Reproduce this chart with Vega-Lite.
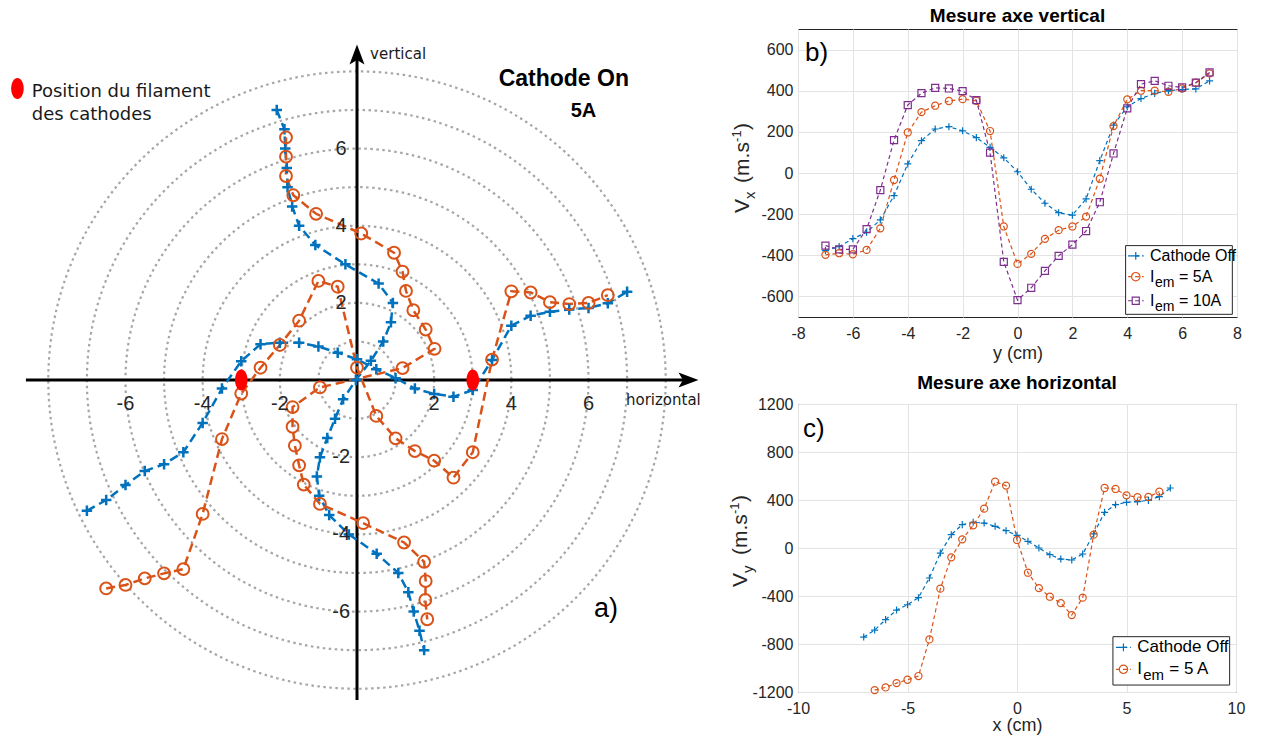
{
  "$schema": "https://vega.github.io/schema/vega-lite/v6.json",
  "background": "white",
  "padding": {"left": 2, "top": 6, "right": 0, "bottom": 0},
  "config": {"view": {"stroke": null}, "font": "Liberation Sans"},
  "resolve": {"scale": {"color": "independent", "shape": "independent", "size": "independent"}},
  "datasets": {
    "streams": [
      {"id":"bv","s":"off","i":0,"x":-2.08,"y":7},{"id":"bv","s":"off","i":1,"x":-1.88,"y":6.5},{"id":"bv","s":"off","i":2,"x":-1.86,"y":6},{"id":"bv","s":"off","i":3,"x":-1.82,"y":5.5},{"id":"bv","s":"off","i":4,"x":-1.8,"y":5},{"id":"bv","s":"off","i":5,"x":-1.68,"y":4.5},{"id":"bv","s":"off","i":6,"x":-1.5,"y":4},{"id":"bv","s":"off","i":7,"x":-1.08,"y":3.5},{"id":"bv","s":"off","i":8,"x":-0.3,"y":3},{"id":"bv","s":"off","i":9,"x":0.56,"y":2.5},{"id":"bv","s":"off","i":10,"x":0.93,"y":2},{"id":"bv","s":"off","i":11,"x":0.88,"y":1.5},{"id":"bv","s":"off","i":12,"x":0.68,"y":1},{"id":"bv","s":"off","i":13,"x":0.36,"y":0.5},{"id":"bv","s":"off","i":14,"x":-0.03,"y":0},{"id":"bv","s":"off","i":15,"x":-0.36,"y":-0.5},{"id":"bv","s":"off","i":16,"x":-0.57,"y":-1},{"id":"bv","s":"off","i":17,"x":-0.77,"y":-1.5},{"id":"bv","s":"off","i":18,"x":-0.96,"y":-2},{"id":"bv","s":"off","i":19,"x":-1.04,"y":-2.5},{"id":"bv","s":"off","i":20,"x":-0.98,"y":-3},{"id":"bv","s":"off","i":21,"x":-0.72,"y":-3.5},{"id":"bv","s":"off","i":22,"x":-0.21,"y":-4},{"id":"bv","s":"off","i":23,"x":0.51,"y":-4.5},{"id":"bv","s":"off","i":24,"x":1.07,"y":-5},{"id":"bv","s":"off","i":25,"x":1.33,"y":-5.5},{"id":"bv","s":"off","i":26,"x":1.47,"y":-6},{"id":"bv","s":"off","i":27,"x":1.62,"y":-6.5},{"id":"bv","s":"off","i":28,"x":1.74,"y":-7},
      {"id":"bh","s":"off","i":0,"x":-7,"y":-3.39},{"id":"bh","s":"off","i":1,"x":-6.5,"y":-3.11},{"id":"bh","s":"off","i":2,"x":-6,"y":-2.72},{"id":"bh","s":"off","i":3,"x":-5.5,"y":-2.36},{"id":"bh","s":"off","i":4,"x":-5,"y":-2.18},{"id":"bh","s":"off","i":5,"x":-4.5,"y":-1.87},{"id":"bh","s":"off","i":6,"x":-4,"y":-1.11},{"id":"bh","s":"off","i":7,"x":-3.5,"y":-0.22},{"id":"bh","s":"off","i":8,"x":-3,"y":0.49},{"id":"bh","s":"off","i":9,"x":-2.5,"y":0.93},{"id":"bh","s":"off","i":10,"x":-2,"y":0.97},{"id":"bh","s":"off","i":11,"x":-1.5,"y":0.97},{"id":"bh","s":"off","i":12,"x":-1,"y":0.87},{"id":"bh","s":"off","i":13,"x":-0.5,"y":0.71},{"id":"bh","s":"off","i":14,"x":0,"y":0.54},{"id":"bh","s":"off","i":15,"x":0.5,"y":0.28},{"id":"bh","s":"off","i":16,"x":1,"y":0.05},{"id":"bh","s":"off","i":17,"x":1.5,"y":-0.22},{"id":"bh","s":"off","i":18,"x":2,"y":-0.36},{"id":"bh","s":"off","i":19,"x":2.5,"y":-0.43},{"id":"bh","s":"off","i":20,"x":3,"y":-0.26},{"id":"bh","s":"off","i":21,"x":3.5,"y":0.52},{"id":"bh","s":"off","i":22,"x":4,"y":1.41},{"id":"bh","s":"off","i":23,"x":4.5,"y":1.67},{"id":"bh","s":"off","i":24,"x":5,"y":1.77},{"id":"bh","s":"off","i":25,"x":5.5,"y":1.83},{"id":"bh","s":"off","i":26,"x":6,"y":1.87},{"id":"bh","s":"off","i":27,"x":6.5,"y":1.99},{"id":"bh","s":"off","i":28,"x":7,"y":2.29},
      {"id":"ov","s":"on","i":0,"x":-1.84,"y":6.29},{"id":"ov","s":"on","i":1,"x":-1.84,"y":5.79},{"id":"ov","s":"on","i":2,"x":-1.84,"y":5.29},{"id":"ov","s":"on","i":3,"x":-1.65,"y":4.79},{"id":"ov","s":"on","i":4,"x":-1.06,"y":4.31},{"id":"ov","s":"on","i":5,"x":0.11,"y":3.8},{"id":"ov","s":"on","i":6,"x":0.96,"y":3.3},{"id":"ov","s":"on","i":7,"x":1.18,"y":2.81},{"id":"ov","s":"on","i":8,"x":1.27,"y":2.31},{"id":"ov","s":"on","i":9,"x":1.46,"y":1.81},{"id":"ov","s":"on","i":10,"x":1.78,"y":1.31},{"id":"ov","s":"on","i":11,"x":2.01,"y":0.81},{"id":"ov","s":"on","i":12,"x":1.18,"y":0.31},{"id":"ov","s":"on","i":13,"x":-0.96,"y":-0.19},{"id":"ov","s":"on","i":14,"x":-1.67,"y":-0.7},{"id":"ov","s":"on","i":15,"x":-1.67,"y":-1.21},{"id":"ov","s":"on","i":16,"x":-1.61,"y":-1.7},{"id":"ov","s":"on","i":17,"x":-1.5,"y":-2.21},{"id":"ov","s":"on","i":18,"x":-1.38,"y":-2.71},{"id":"ov","s":"on","i":19,"x":-0.96,"y":-3.21},{"id":"ov","s":"on","i":20,"x":0.16,"y":-3.71},{"id":"ov","s":"on","i":21,"x":1.22,"y":-4.21},{"id":"ov","s":"on","i":22,"x":1.74,"y":-4.71},{"id":"ov","s":"on","i":23,"x":1.78,"y":-5.21},{"id":"ov","s":"on","i":24,"x":1.77,"y":-5.7},{"id":"ov","s":"on","i":25,"x":1.82,"y":-6.2},
      {"id":"oh","s":"on","i":0,"x":-6.5,"y":-5.4},{"id":"oh","s":"on","i":1,"x":-6,"y":-5.31},{"id":"oh","s":"on","i":2,"x":-5.5,"y":-5.14},{"id":"oh","s":"on","i":3,"x":-5,"y":-5.01},{"id":"oh","s":"on","i":4,"x":-4.5,"y":-4.9},{"id":"oh","s":"on","i":5,"x":-4,"y":-3.47},{"id":"oh","s":"on","i":6,"x":-3.5,"y":-1.53},{"id":"oh","s":"on","i":7,"x":-3,"y":-0.35},{"id":"oh","s":"on","i":8,"x":-2.5,"y":0.32},{"id":"oh","s":"on","i":9,"x":-2,"y":0.91},{"id":"oh","s":"on","i":10,"x":-1.5,"y":1.54},{"id":"oh","s":"on","i":11,"x":-1,"y":2.57},{"id":"oh","s":"on","i":12,"x":-0.5,"y":2.42},{"id":"oh","s":"on","i":13,"x":0,"y":0.32},{"id":"oh","s":"on","i":14,"x":0.5,"y":-0.93},{"id":"oh","s":"on","i":15,"x":1,"y":-1.51},{"id":"oh","s":"on","i":16,"x":1.5,"y":-1.84},{"id":"oh","s":"on","i":17,"x":2,"y":-2.09},{"id":"oh","s":"on","i":18,"x":2.5,"y":-2.53},{"id":"oh","s":"on","i":19,"x":3,"y":-1.87},{"id":"oh","s":"on","i":20,"x":3.5,"y":0.53},{"id":"oh","s":"on","i":21,"x":4,"y":2.3},{"id":"oh","s":"on","i":22,"x":4.5,"y":2.27},{"id":"oh","s":"on","i":23,"x":5,"y":2.02},{"id":"oh","s":"on","i":24,"x":5.5,"y":1.97},{"id":"oh","s":"on","i":25,"x":6,"y":2.0},{"id":"oh","s":"on","i":26,"x":6.5,"y":2.2}
    ],
    "vert": [
      {"y":-7,"s":"off","v":-377},{"y":-6.5,"s":"off","v":-358},{"y":-6,"s":"off","v":-319},{"y":-5.5,"s":"off","v":-288},{"y":-5,"s":"off","v":-228},{"y":-4.5,"s":"off","v":-110},{"y":-4,"s":"off","v":44},{"y":-3.5,"s":"off","v":157},{"y":-3,"s":"off","v":214},{"y":-2.5,"s":"off","v":225},{"y":-2,"s":"off","v":205},{"y":-1.5,"s":"off","v":172},{"y":-1,"s":"off","v":125},{"y":-0.5,"s":"off","v":74},{"y":0,"s":"off","v":6},{"y":0.5,"s":"off","v":-79},{"y":1,"s":"off","v":-147},{"y":1.5,"s":"off","v":-193},{"y":2,"s":"off","v":-205},{"y":2.5,"s":"off","v":-126},{"y":3,"s":"off","v":60},{"y":3.5,"s":"off","v":233},{"y":4,"s":"off","v":322},{"y":4.5,"s":"off","v":362},{"y":5,"s":"off","v":387},{"y":5.5,"s":"off","v":400},{"y":6,"s":"off","v":406},{"y":6.5,"s":"off","v":409},{"y":7,"s":"off","v":448},
      {"y":-7,"s":"5A","v":-398},{"y":-6.5,"s":"5A","v":-390},{"y":-6,"s":"5A","v":-395},{"y":-5.5,"s":"5A","v":-374},{"y":-5,"s":"5A","v":-269},{"y":-4.5,"s":"5A","v":-34},{"y":-4,"s":"5A","v":197},{"y":-3.5,"s":"5A","v":296},{"y":-3,"s":"5A","v":327},{"y":-2.5,"s":"5A","v":350},{"y":-2,"s":"5A","v":359},{"y":-1.5,"s":"5A","v":351},{"y":-1,"s":"5A","v":204},{"y":-0.5,"s":"5A","v":-260},{"y":0,"s":"5A","v":-442},{"y":0.5,"s":"5A","v":-393},{"y":1,"s":"5A","v":-320},{"y":1.5,"s":"5A","v":-278},{"y":2,"s":"5A","v":-260},{"y":2.5,"s":"5A","v":-212},{"y":3,"s":"5A","v":-28},{"y":3.5,"s":"5A","v":228},{"y":4,"s":"5A","v":358},{"y":4.5,"s":"5A","v":400},{"y":5,"s":"5A","v":400},{"y":5.5,"s":"5A","v":395},{"y":6,"s":"5A","v":411},{"y":6.5,"s":"5A","v":439},{"y":7,"s":"5A","v":484},
      {"y":-7,"s":"10A","v":-353},{"y":-6.5,"s":"10A","v":-371},{"y":-6,"s":"10A","v":-371},{"y":-5.5,"s":"10A","v":-273},{"y":-5,"s":"10A","v":-83},{"y":-4.5,"s":"10A","v":160},{"y":-4,"s":"10A","v":330},{"y":-3.5,"s":"10A","v":388},{"y":-3,"s":"10A","v":414},{"y":-2.5,"s":"10A","v":411},{"y":-2,"s":"10A","v":398},{"y":-1.5,"s":"10A","v":354},{"y":-1,"s":"10A","v":99},{"y":-0.5,"s":"10A","v":-432},{"y":0,"s":"10A","v":-618},{"y":0.5,"s":"10A","v":-558},{"y":1,"s":"10A","v":-476},{"y":1.5,"s":"10A","v":-403},{"y":2,"s":"10A","v":-348},{"y":2.5,"s":"10A","v":-282},{"y":3,"s":"10A","v":-142},{"y":3.5,"s":"10A","v":95},{"y":4,"s":"10A","v":314},{"y":4.5,"s":"10A","v":432},{"y":5,"s":"10A","v":448},{"y":5.5,"s":"10A","v":424},{"y":6,"s":"10A","v":416},{"y":6.5,"s":"10A","v":439},{"y":7,"s":"10A","v":489}
    ],
    "hori": [
      {"x":-7,"s":"off","v":-742},{"x":-6.5,"s":"off","v":-684},{"x":-6,"s":"off","v":-597},{"x":-5.5,"s":"off","v":-517},{"x":-5,"s":"off","v":-473},{"x":-4.5,"s":"off","v":-414},{"x":-4,"s":"off","v":-250},{"x":-3.5,"s":"off","v":-42},{"x":-3,"s":"off","v":111},{"x":-2.5,"s":"off","v":195},{"x":-2,"s":"off","v":214},{"x":-1.5,"s":"off","v":208},{"x":-1,"s":"off","v":181},{"x":-0.5,"s":"off","v":144},{"x":0,"s":"off","v":106},{"x":0.5,"s":"off","v":56},{"x":1,"s":"off","v":0},{"x":1.5,"s":"off","v":-56},{"x":2,"s":"off","v":-92},{"x":2.5,"s":"off","v":-100},{"x":3,"s":"off","v":-50},{"x":3.5,"s":"off","v":117},{"x":4,"s":"off","v":297},{"x":4.5,"s":"off","v":361},{"x":5,"s":"off","v":381},{"x":5.5,"s":"off","v":386},{"x":6,"s":"off","v":397},{"x":6.5,"s":"off","v":428},{"x":7,"s":"off","v":500},
      {"x":-6.5,"s":"5A","v":-1184},{"x":-6,"s":"5A","v":-1162},{"x":-5.5,"s":"5A","v":-1126},{"x":-5,"s":"5A","v":-1098},{"x":-4.5,"s":"5A","v":-1067},{"x":-4,"s":"5A","v":-762},{"x":-3.5,"s":"5A","v":-339},{"x":-3,"s":"5A","v":-78},{"x":-2.5,"s":"5A","v":72},{"x":-2,"s":"5A","v":189},{"x":-1.5,"s":"5A","v":328},{"x":-1,"s":"5A","v":553},{"x":-0.5,"s":"5A","v":520},{"x":0,"s":"5A","v":67},{"x":0.5,"s":"5A","v":-206},{"x":1,"s":"5A","v":-334},{"x":1.5,"s":"5A","v":-406},{"x":2,"s":"5A","v":-459},{"x":2.5,"s":"5A","v":-559},{"x":3,"s":"5A","v":-414},{"x":3.5,"s":"5A","v":111},{"x":4,"s":"5A","v":500},{"x":4.5,"s":"5A","v":492},{"x":5,"s":"5A","v":439},{"x":5.5,"s":"5A","v":423},{"x":6,"s":"5A","v":425},{"x":6.5,"s":"5A","v":470}
    ]
  },
  "spacing": 16,
  "hconcat": [
    {
      "width": 710,
      "height": 706,
      "layer": [
        {
          "data": {"values": [{"r":1},{"r":2},{"r":3},{"r":4},{"r":5},{"r":6},{"r":7},{"r":8}]},
          "mark": {"type": "point", "shape": "circle", "filled": false, "stroke": "#a6a6a6", "strokeWidth": 2.2, "strokeDash": [2.5, 3.5], "opacity": 1},
          "encoding": {
            "x": {"datum": 0, "type": "quantitative", "scale": {"domain": [-9.2, 9.2], "nice": false, "zero": false}, "axis": null},
            "y": {"datum": 0, "type": "quantitative", "scale": {"domain": [-9.2, 9.1], "nice": false, "zero": false}, "axis": null},
            "size": {"field": "r", "type": "quantitative", "scale": {"type": "pow", "exponent": 2, "domain": [0, 8], "range": [0, 381182]}, "legend": null}
          }
        },
        {
          "data": {"values": [{}]},
          "mark": {"type": "rule", "stroke": "black", "strokeWidth": 3},
          "encoding": {
            "x": {"datum": -8.58, "type": "quantitative", "scale": {"domain": [-9.2, 9.2], "nice": false, "zero": false}, "axis": null},
            "x2": {"datum": 8.5},
            "y": {"datum": 0, "type": "quantitative", "scale": {"domain": [-9.2, 9.1], "nice": false, "zero": false}, "axis": null}
          }
        },
        {
          "data": {"values": [{}]},
          "mark": {"type": "rule", "stroke": "black", "strokeWidth": 3},
          "encoding": {
            "x": {"datum": 0, "type": "quantitative", "scale": {"domain": [-9.2, 9.2], "nice": false, "zero": false}, "axis": null},
            "y": {"datum": -8.29, "type": "quantitative", "scale": {"domain": [-9.2, 9.1], "nice": false, "zero": false}, "axis": null},
            "y2": {"datum": 8.4}
          }
        },
        {
          "data": {"values": [{}]},
          "mark": {"type": "point", "shape": "M1,0L-1,-0.75L-0.55,0L-1,0.75Z", "filled": true, "color": "black", "size": 400, "opacity": 1},
          "encoding": {
            "x": {"datum": 8.59, "type": "quantitative", "scale": {"domain": [-9.2, 9.2], "nice": false, "zero": false}, "axis": null},
            "y": {"datum": 0, "type": "quantitative", "scale": {"domain": [-9.2, 9.1], "nice": false, "zero": false}, "axis": null}
          }
        },
        {
          "data": {"values": [{}]},
          "mark": {"type": "point", "shape": "M0,-1L-0.75,1L0,0.55L0.75,1Z", "filled": true, "color": "black", "size": 400, "opacity": 1},
          "encoding": {
            "x": {"datum": 0, "type": "quantitative", "scale": {"domain": [-9.2, 9.2], "nice": false, "zero": false}, "axis": null},
            "y": {"datum": 8.44, "type": "quantitative", "scale": {"domain": [-9.2, 9.1], "nice": false, "zero": false}, "axis": null}
          }
        },
        {
          "data": {"name": "streams"},
          "mark": {"type": "line", "strokeDash": [9, 5], "strokeWidth": 2.5},
          "encoding": {
            "x": {"field": "x", "type": "quantitative", "scale": {"domain": [-9.2, 9.2], "nice": false, "zero": false}, "axis": null},
            "y": {"field": "y", "type": "quantitative", "scale": {"domain": [-9.2, 9.1], "nice": false, "zero": false}, "axis": null},
            "color": {"field": "s", "type": "nominal", "scale": {"domain": ["off", "on"], "range": ["#0072BD", "#D95319"]}, "legend": null},
            "detail": {"field": "id"},
            "order": {"field": "i", "type": "quantitative"}
          }
        },
        {
          "data": {"name": "streams"},
          "transform": [{"filter": "datum.s === 'off'"}],
          "mark": {"type": "point", "shape": "M-1,0L1,0M0,-1L0,1", "filled": false, "size": 110, "strokeWidth": 2.5, "opacity": 1, "color": "#0072BD"},
          "encoding": {
            "x": {"field": "x", "type": "quantitative", "scale": {"domain": [-9.2, 9.2], "nice": false, "zero": false}, "axis": null},
            "y": {"field": "y", "type": "quantitative", "scale": {"domain": [-9.2, 9.1], "nice": false, "zero": false}, "axis": null}
          }
        },
        {
          "data": {"name": "streams"},
          "transform": [{"filter": "datum.s === 'on'"}],
          "mark": {"type": "point", "shape": "circle", "filled": false, "size": 140, "strokeWidth": 2, "opacity": 1, "color": "#D95319"},
          "encoding": {
            "x": {"field": "x", "type": "quantitative", "scale": {"domain": [-9.2, 9.2], "nice": false, "zero": false}, "axis": null},
            "y": {"field": "y", "type": "quantitative", "scale": {"domain": [-9.2, 9.1], "nice": false, "zero": false}, "axis": null}
          }
        },
        {
          "data": {"values": [{"x": -3}, {"x": 3}]},
          "mark": {"type": "point", "shape": "M0,-1A0.6,1 0 1,1 0,1A0.6,1 0 1,1 0,-1Z", "filled": true, "color": "#ff0000", "size": 441, "opacity": 1},
          "encoding": {
            "x": {"field": "x", "type": "quantitative", "scale": {"domain": [-9.2, 9.2], "nice": false, "zero": false}, "axis": null},
            "y": {"datum": 0, "type": "quantitative", "scale": {"domain": [-9.2, 9.1], "nice": false, "zero": false}, "axis": null}
          }
        },
        {
          "data": {"values": [{}]},
          "mark": {"type": "point", "shape": "M0,-1A0.6,1 0 1,1 0,1A0.6,1 0 1,1 0,-1Z", "filled": true, "color": "#ff0000", "size": 441, "opacity": 1},
          "encoding": {
            "x": {"datum": -8.8, "type": "quantitative", "scale": {"domain": [-9.2, 9.2], "nice": false, "zero": false}, "axis": null},
            "y": {"datum": 7.56, "type": "quantitative", "scale": {"domain": [-9.2, 9.1], "nice": false, "zero": false}, "axis": null}
          }
        },
        {
          "data": {"values": [{"v": -6}, {"v": -4}, {"v": -2}, {"v": 2}, {"v": 4}, {"v": 6}]},
          "mark": {"type": "text", "fontSize": 20, "color": "#262626", "align": "center", "baseline": "alphabetic"},
          "encoding": {
            "x": {"field": "v", "type": "quantitative", "scale": {"domain": [-9.2, 9.2], "nice": false, "zero": false}, "axis": null},
            "y": {"datum": -0.78, "type": "quantitative", "scale": {"domain": [-9.2, 9.1], "nice": false, "zero": false}, "axis": null},
            "text": {"field": "v", "type": "nominal"}
          }
        },
        {
          "data": {"values": [{"v": -6}, {"v": -4}, {"v": -2}, {"v": 2}, {"v": 4}, {"v": 6}]},
          "mark": {"type": "text", "fontSize": 20, "color": "#262626", "align": "center", "baseline": "middle"},
          "encoding": {
            "x": {"datum": -0.41, "type": "quantitative", "scale": {"domain": [-9.2, 9.2], "nice": false, "zero": false}, "axis": null},
            "y": {"field": "v", "type": "quantitative", "scale": {"domain": [-9.2, 9.1], "nice": false, "zero": false}, "axis": null},
            "text": {"field": "v", "type": "nominal"}
          }
        },
        {
          "data": {"values": [{}]},
          "mark": {"type": "text", "text": ["Position du filament", "des cathodes"], "font": "DejaVu Sans", "fontSize": 18, "lineHeight": 23.3, "color": "#1a1a1a", "align": "left", "baseline": "alphabetic"},
          "encoding": {
            "x": {"datum": -8.43, "type": "quantitative", "scale": {"domain": [-9.2, 9.2], "nice": false, "zero": false}, "axis": null},
            "y": {"datum": 7.34, "type": "quantitative", "scale": {"domain": [-9.2, 9.1], "nice": false, "zero": false}, "axis": null}
          }
        },
        {
          "data": {"values": [{}]},
          "mark": {"type": "text", "text": "Cathode On", "fontSize": 23, "fontWeight": "bold", "color": "black", "align": "center", "baseline": "alphabetic"},
          "encoding": {
            "x": {"datum": 5.36, "type": "quantitative", "scale": {"domain": [-9.2, 9.2], "nice": false, "zero": false}, "axis": null},
            "y": {"datum": 7.62, "type": "quantitative", "scale": {"domain": [-9.2, 9.1], "nice": false, "zero": false}, "axis": null}
          }
        },
        {
          "data": {"values": [{}]},
          "mark": {"type": "text", "text": "5A", "fontSize": 20, "fontWeight": "bold", "color": "black", "align": "center", "baseline": "alphabetic"},
          "encoding": {
            "x": {"datum": 5.87, "type": "quantitative", "scale": {"domain": [-9.2, 9.2], "nice": false, "zero": false}, "axis": null},
            "y": {"datum": 6.82, "type": "quantitative", "scale": {"domain": [-9.2, 9.1], "nice": false, "zero": false}, "axis": null}
          }
        },
        {
          "data": {"values": [{}]},
          "mark": {"type": "text", "text": "a)", "fontSize": 27, "color": "black", "align": "center", "baseline": "alphabetic"},
          "encoding": {
            "x": {"datum": 6.45, "type": "quantitative", "scale": {"domain": [-9.2, 9.2], "nice": false, "zero": false}, "axis": null},
            "y": {"datum": -6.14, "type": "quantitative", "scale": {"domain": [-9.2, 9.1], "nice": false, "zero": false}, "axis": null}
          }
        },
        {
          "data": {"values": [{}]},
          "mark": {"type": "text", "text": "vertical", "font": "DejaVu Sans", "fontSize": 15, "color": "#1a1a1a", "align": "left", "baseline": "alphabetic"},
          "encoding": {
            "x": {"datum": 0.34, "type": "quantitative", "scale": {"domain": [-9.2, 9.2], "nice": false, "zero": false}, "axis": null},
            "y": {"datum": 8.33, "type": "quantitative", "scale": {"domain": [-9.2, 9.1], "nice": false, "zero": false}, "axis": null}
          }
        },
        {
          "data": {"values": [{}]},
          "mark": {"type": "text", "text": "horizontal", "font": "DejaVu Sans", "fontSize": 15, "color": "#1a1a1a", "align": "left", "baseline": "alphabetic"},
          "encoding": {
            "x": {"datum": 6.97, "type": "quantitative", "scale": {"domain": [-9.2, 9.2], "nice": false, "zero": false}, "axis": null},
            "y": {"datum": -0.65, "type": "quantitative", "scale": {"domain": [-9.2, 9.1], "nice": false, "zero": false}, "axis": null}
          }
        }
      ]
    },
    {
      "spacing": 10,
      "resolve": {"scale": {"color": "independent", "shape": "independent"}},
      "vconcat": [
        {
          "width": 439,
          "height": 288,
          "title": {"text": "Mesure axe vertical", "fontSize": 19, "fontWeight": "bold", "color": "black", "offset": 3, "font": "Liberation Sans"},
          "view": {"stroke": "#262626", "strokeWidth": 1},
          "data": {"name": "vert"},
          "layer": [
            {
              "mark": {"type": "line", "strokeDash": [4, 3], "strokeWidth": 1.2},
              "encoding": {
                "x": {"field": "y", "type": "quantitative", "scale": {"domain": [-8, 8], "nice": false, "zero": false}, "axis": {"values": [-8, -6, -4, -2, 0, 2, 4, 6, 8], "title": "y (cm)", "grid": true, "gridColor": "#e3e3e3", "ticks": false, "domain": false, "labelFontSize": 16, "labelColor": "#262626", "labelPadding": 8, "labelFlush": false, "labelExpr": "datum.value + ''", "titleFontSize": 18, "titleFontWeight": "normal", "titleColor": "#262626", "titlePadding": 3}},
                "y": {"field": "v", "type": "quantitative", "scale": {"domain": [-700, 700], "nice": false, "zero": false}, "axis": {"values": [-600, -400, -200, 0, 200, 400, 600], "title": null, "grid": true, "gridColor": "#e3e3e3", "ticks": false, "domain": false, "labelFontSize": 16, "labelColor": "#262626", "labelPadding": 5, "labelFlush": false, "labelExpr": "datum.value + ''"}},
                "color": {"field": "s", "type": "nominal", "scale": {"domain": ["off", "5A", "10A"], "range": ["#0072BD", "#D95319", "#7E2F8E"]}, "legend": null}
              }
            },
            {
              "mark": {"type": "point", "filled": false, "size": 50, "strokeWidth": 1.2, "opacity": 1},
              "encoding": {
                "x": {"field": "y", "type": "quantitative", "scale": {"domain": [-8, 8], "nice": false, "zero": false}},
                "y": {"field": "v", "type": "quantitative", "scale": {"domain": [-700, 700], "nice": false, "zero": false}},
                "color": {"field": "s", "type": "nominal", "scale": {"domain": ["off", "5A", "10A"], "range": ["#0072BD", "#D95319", "#7E2F8E"]}, "legend": null},
                "shape": {"field": "s", "type": "nominal", "scale": {"domain": ["off", "5A", "10A"], "range": ["M-1,0L1,0M0,-1L0,1", "circle", "square"]}, "legend": null}
              }
            },
            {
              "data": {"values": [{}]},
              "mark": {"type": "text", "text": "b)", "fontSize": 26, "color": "black", "align": "left", "baseline": "alphabetic"},
              "encoding": {
                "x": {"datum": -7.745, "type": "quantitative", "scale": {"domain": [-8, 8], "nice": false, "zero": false}},
                "y": {"datum": 544, "type": "quantitative", "scale": {"domain": [-700, 700], "nice": false, "zero": false}}
              }
            },
            {
              "data": {"values": [{}]},
              "mark": {"type": "rect", "fill": "white", "stroke": "#262626", "strokeWidth": 1},
              "encoding": {
                "x": {"datum": 3.94, "type": "quantitative", "scale": {"domain": [-8, 8], "nice": false, "zero": false}},
                "x2": {"datum": 7.83},
                "y": {"datum": -353, "type": "quantitative", "scale": {"domain": [-700, 700], "nice": false, "zero": false}},
                "y2": {"datum": -687}
              }
            },
            {
              "data": {"values": [{}]},
              "mark": {"type": "rule", "stroke": "#0072BD", "strokeWidth": 1.2, "strokeDash": [4, 3]},
              "encoding": {
                "x": {"datum": 4.03, "type": "quantitative", "scale": {"domain": [-8, 8], "nice": false, "zero": false}},
                "x2": {"datum": 4.6},
                "y": {"datum": -403, "type": "quantitative", "scale": {"domain": [-700, 700], "nice": false, "zero": false}}
              }
            },
            {
              "data": {"values": [{}]},
              "mark": {"type": "rule", "stroke": "#D95319", "strokeWidth": 1.2, "strokeDash": [4, 3]},
              "encoding": {
                "x": {"datum": 4.03, "type": "quantitative", "scale": {"domain": [-8, 8], "nice": false, "zero": false}},
                "x2": {"datum": 4.6},
                "y": {"datum": -504, "type": "quantitative", "scale": {"domain": [-700, 700], "nice": false, "zero": false}}
              }
            },
            {
              "data": {"values": [{}]},
              "mark": {"type": "rule", "stroke": "#7E2F8E", "strokeWidth": 1.2, "strokeDash": [4, 3]},
              "encoding": {
                "x": {"datum": 4.03, "type": "quantitative", "scale": {"domain": [-8, 8], "nice": false, "zero": false}},
                "x2": {"datum": 4.6},
                "y": {"datum": -621, "type": "quantitative", "scale": {"domain": [-700, 700], "nice": false, "zero": false}}
              }
            },
            {
              "data": {"values": [{}]},
              "mark": {"type": "point", "shape": "M-1,0L1,0M0,-1L0,1", "filled": false, "size": 60, "strokeWidth": 1.2, "opacity": 1, "color": "#0072BD"},
              "encoding": {
                "x": {"datum": 4.31, "type": "quantitative", "scale": {"domain": [-8, 8], "nice": false, "zero": false}},
                "y": {"datum": -403, "type": "quantitative", "scale": {"domain": [-700, 700], "nice": false, "zero": false}}
              }
            },
            {
              "data": {"values": [{}]},
              "mark": {"type": "point", "shape": "circle", "filled": false, "size": 70, "strokeWidth": 1.2, "opacity": 1, "color": "#D95319"},
              "encoding": {
                "x": {"datum": 4.31, "type": "quantitative", "scale": {"domain": [-8, 8], "nice": false, "zero": false}},
                "y": {"datum": -504, "type": "quantitative", "scale": {"domain": [-700, 700], "nice": false, "zero": false}}
              }
            },
            {
              "data": {"values": [{}]},
              "mark": {"type": "point", "shape": "square", "filled": false, "size": 50, "strokeWidth": 1.2, "opacity": 1, "color": "#7E2F8E"},
              "encoding": {
                "x": {"datum": 4.31, "type": "quantitative", "scale": {"domain": [-8, 8], "nice": false, "zero": false}},
                "y": {"datum": -621, "type": "quantitative", "scale": {"domain": [-700, 700], "nice": false, "zero": false}}
              }
            },
            {
              "data": {"values": [{}]},
              "mark": {"type": "text", "text": "Cathode Off", "fontSize": 16, "color": "black", "align": "left", "baseline": "middle"},
              "encoding": {
                "x": {"datum": 4.83, "type": "quantitative", "scale": {"domain": [-8, 8], "nice": false, "zero": false}},
                "y": {"datum": -403, "type": "quantitative", "scale": {"domain": [-700, 700], "nice": false, "zero": false}}
              }
            },
            {
              "data": {"values": [{}]},
              "mark": {"type": "text", "text": "I", "fontSize": 16, "color": "black", "align": "left", "baseline": "middle"},
              "encoding": {
                "x": {"datum": 4.83, "type": "quantitative", "scale": {"domain": [-8, 8], "nice": false, "zero": false}},
                "y": {"datum": -504, "type": "quantitative", "scale": {"domain": [-700, 700], "nice": false, "zero": false}}
              }
            },
            {
              "data": {"values": [{}]},
              "mark": {"type": "text", "text": "em", "fontSize": 14, "color": "black", "align": "left", "baseline": "middle", "dx": 5, "dy": 6},
              "encoding": {
                "x": {"datum": 4.83, "type": "quantitative", "scale": {"domain": [-8, 8], "nice": false, "zero": false}},
                "y": {"datum": -504, "type": "quantitative", "scale": {"domain": [-700, 700], "nice": false, "zero": false}}
              }
            },
            {
              "data": {"values": [{}]},
              "mark": {"type": "text", "text": "= 5A", "fontSize": 16, "color": "black", "align": "left", "baseline": "middle", "dx": 29},
              "encoding": {
                "x": {"datum": 4.83, "type": "quantitative", "scale": {"domain": [-8, 8], "nice": false, "zero": false}},
                "y": {"datum": -504, "type": "quantitative", "scale": {"domain": [-700, 700], "nice": false, "zero": false}}
              }
            },
            {
              "data": {"values": [{}]},
              "mark": {"type": "text", "text": "I", "fontSize": 16, "color": "black", "align": "left", "baseline": "middle"},
              "encoding": {
                "x": {"datum": 4.83, "type": "quantitative", "scale": {"domain": [-8, 8], "nice": false, "zero": false}},
                "y": {"datum": -621, "type": "quantitative", "scale": {"domain": [-700, 700], "nice": false, "zero": false}}
              }
            },
            {
              "data": {"values": [{}]},
              "mark": {"type": "text", "text": "em", "fontSize": 14, "color": "black", "align": "left", "baseline": "middle", "dx": 5, "dy": 6},
              "encoding": {
                "x": {"datum": 4.83, "type": "quantitative", "scale": {"domain": [-8, 8], "nice": false, "zero": false}},
                "y": {"datum": -621, "type": "quantitative", "scale": {"domain": [-700, 700], "nice": false, "zero": false}}
              }
            },
            {
              "data": {"values": [{}]},
              "mark": {"type": "text", "text": "= 10A", "fontSize": 16, "color": "black", "align": "left", "baseline": "middle", "dx": 29},
              "encoding": {
                "x": {"datum": 4.83, "type": "quantitative", "scale": {"domain": [-8, 8], "nice": false, "zero": false}},
                "y": {"datum": -621, "type": "quantitative", "scale": {"domain": [-700, 700], "nice": false, "zero": false}}
              }
            },
            {
              "data": {"values": [{}]},
              "mark": {"type": "text", "text": "V", "angle": 270, "fontSize": 21, "color": "#262626", "align": "left", "baseline": "alphabetic"},
              "encoding": {
                "x": {"datum": -9.786, "type": "quantitative", "scale": {"domain": [-8, 8], "nice": false, "zero": false}},
                "y": {"datum": -194, "type": "quantitative", "scale": {"domain": [-700, 700], "nice": false, "zero": false}}
              }
            },
            {
              "data": {"values": [{}]},
              "mark": {"type": "text", "text": "x", "angle": 270, "fontSize": 15, "color": "#262626", "align": "left", "baseline": "alphabetic", "dx": 14, "dy": 6},
              "encoding": {
                "x": {"datum": -9.786, "type": "quantitative", "scale": {"domain": [-8, 8], "nice": false, "zero": false}},
                "y": {"datum": -194, "type": "quantitative", "scale": {"domain": [-700, 700], "nice": false, "zero": false}}
              }
            },
            {
              "data": {"values": [{}]},
              "mark": {"type": "text", "text": "(m.s", "angle": 270, "fontSize": 21, "color": "#262626", "align": "left", "baseline": "alphabetic", "dx": 30},
              "encoding": {
                "x": {"datum": -9.786, "type": "quantitative", "scale": {"domain": [-8, 8], "nice": false, "zero": false}},
                "y": {"datum": -194, "type": "quantitative", "scale": {"domain": [-700, 700], "nice": false, "zero": false}}
              }
            },
            {
              "data": {"values": [{}]},
              "mark": {"type": "text", "text": "-1", "angle": 270, "fontSize": 13, "color": "#262626", "align": "left", "baseline": "alphabetic", "dx": 71, "dy": -8},
              "encoding": {
                "x": {"datum": -9.786, "type": "quantitative", "scale": {"domain": [-8, 8], "nice": false, "zero": false}},
                "y": {"datum": -194, "type": "quantitative", "scale": {"domain": [-700, 700], "nice": false, "zero": false}}
              }
            },
            {
              "data": {"values": [{}]},
              "mark": {"type": "text", "text": ")", "angle": 270, "fontSize": 21, "color": "#262626", "align": "left", "baseline": "alphabetic", "dx": 83},
              "encoding": {
                "x": {"datum": -9.786, "type": "quantitative", "scale": {"domain": [-8, 8], "nice": false, "zero": false}},
                "y": {"datum": -194, "type": "quantitative", "scale": {"domain": [-700, 700], "nice": false, "zero": false}}
              }
            }
          ]
        },
        {
          "width": 438,
          "height": 288,
          "title": {"text": "Mesure axe horizontal", "fontSize": 19, "fontWeight": "bold", "color": "black", "offset": 3, "font": "Liberation Sans"},
          "view": {"stroke": "#262626", "strokeWidth": 1},
          "data": {"name": "hori"},
          "layer": [
            {
              "mark": {"type": "line", "strokeDash": [4, 3], "strokeWidth": 1.2},
              "encoding": {
                "x": {"field": "x", "type": "quantitative", "scale": {"domain": [-10, 10], "nice": false, "zero": false}, "axis": {"values": [-10, -5, 0, 5, 10], "title": "x (cm)", "grid": true, "gridColor": "#e3e3e3", "ticks": false, "domain": false, "labelFontSize": 16, "labelColor": "#262626", "labelPadding": 8, "labelFlush": false, "labelExpr": "datum.value + ''", "titleFontSize": 18, "titleFontWeight": "normal", "titleColor": "#262626", "titlePadding": 0}},
                "y": {"field": "v", "type": "quantitative", "scale": {"domain": [-1200, 1200], "nice": false, "zero": false}, "axis": {"values": [-1200, -800, -400, 0, 400, 800, 1200], "title": null, "grid": true, "gridColor": "#e3e3e3", "ticks": false, "domain": false, "labelFontSize": 16, "labelColor": "#262626", "labelPadding": 5, "labelFlush": false, "labelExpr": "datum.value + ''"}},
                "color": {"field": "s", "type": "nominal", "scale": {"domain": ["off", "5A"], "range": ["#0072BD", "#D95319"]}, "legend": null}
              }
            },
            {
              "mark": {"type": "point", "filled": false, "size": 50, "strokeWidth": 1.2, "opacity": 1},
              "encoding": {
                "x": {"field": "x", "type": "quantitative", "scale": {"domain": [-10, 10], "nice": false, "zero": false}},
                "y": {"field": "v", "type": "quantitative", "scale": {"domain": [-1200, 1200], "nice": false, "zero": false}},
                "color": {"field": "s", "type": "nominal", "scale": {"domain": ["off", "5A"], "range": ["#0072BD", "#D95319"]}, "legend": null},
                "shape": {"field": "s", "type": "nominal", "scale": {"domain": ["off", "5A"], "range": ["M-1,0L1,0M0,-1L0,1", "circle"]}, "legend": null}
              }
            },
            {
              "data": {"values": [{}]},
              "mark": {"type": "text", "text": "c)", "fontSize": 26, "color": "black", "align": "left", "baseline": "alphabetic"},
              "encoding": {
                "x": {"datum": -9.77, "type": "quantitative", "scale": {"domain": [-10, 10], "nice": false, "zero": false}},
                "y": {"datum": 925, "type": "quantitative", "scale": {"domain": [-1200, 1200], "nice": false, "zero": false}}
              }
            },
            {
              "data": {"values": [{}]},
              "mark": {"type": "rect", "fill": "white", "stroke": "#262626", "strokeWidth": 1},
              "encoding": {
                "x": {"datum": 4.38, "type": "quantitative", "scale": {"domain": [-10, 10], "nice": false, "zero": false}},
                "x2": {"datum": 9.71},
                "y": {"datum": -739, "type": "quantitative", "scale": {"domain": [-1200, 1200], "nice": false, "zero": false}},
                "y2": {"datum": -1142}
              }
            },
            {
              "data": {"values": [{}]},
              "mark": {"type": "rule", "stroke": "#0072BD", "strokeWidth": 1.2, "strokeDash": [4, 3]},
              "encoding": {
                "x": {"datum": 4.52, "type": "quantitative", "scale": {"domain": [-10, 10], "nice": false, "zero": false}},
                "x2": {"datum": 5.2},
                "y": {"datum": -828, "type": "quantitative", "scale": {"domain": [-1200, 1200], "nice": false, "zero": false}}
              }
            },
            {
              "data": {"values": [{}]},
              "mark": {"type": "rule", "stroke": "#D95319", "strokeWidth": 1.2, "strokeDash": [4, 3]},
              "encoding": {
                "x": {"datum": 4.52, "type": "quantitative", "scale": {"domain": [-10, 10], "nice": false, "zero": false}},
                "x2": {"datum": 5.2},
                "y": {"datum": -1011, "type": "quantitative", "scale": {"domain": [-1200, 1200], "nice": false, "zero": false}}
              }
            },
            {
              "data": {"values": [{}]},
              "mark": {"type": "point", "shape": "M-1,0L1,0M0,-1L0,1", "filled": false, "size": 60, "strokeWidth": 1.2, "opacity": 1, "color": "#0072BD"},
              "encoding": {
                "x": {"datum": 4.86, "type": "quantitative", "scale": {"domain": [-10, 10], "nice": false, "zero": false}},
                "y": {"datum": -828, "type": "quantitative", "scale": {"domain": [-1200, 1200], "nice": false, "zero": false}}
              }
            },
            {
              "data": {"values": [{}]},
              "mark": {"type": "point", "shape": "circle", "filled": false, "size": 70, "strokeWidth": 1.2, "opacity": 1, "color": "#D95319"},
              "encoding": {
                "x": {"datum": 4.86, "type": "quantitative", "scale": {"domain": [-10, 10], "nice": false, "zero": false}},
                "y": {"datum": -1011, "type": "quantitative", "scale": {"domain": [-1200, 1200], "nice": false, "zero": false}}
              }
            },
            {
              "data": {"values": [{}]},
              "mark": {"type": "text", "text": "Cathode Off", "fontSize": 17, "color": "black", "align": "left", "baseline": "middle"},
              "encoding": {
                "x": {"datum": 5.49, "type": "quantitative", "scale": {"domain": [-10, 10], "nice": false, "zero": false}},
                "y": {"datum": -828, "type": "quantitative", "scale": {"domain": [-1200, 1200], "nice": false, "zero": false}}
              }
            },
            {
              "data": {"values": [{}]},
              "mark": {"type": "text", "text": "I", "fontSize": 17, "color": "black", "align": "left", "baseline": "middle"},
              "encoding": {
                "x": {"datum": 5.49, "type": "quantitative", "scale": {"domain": [-10, 10], "nice": false, "zero": false}},
                "y": {"datum": -1011, "type": "quantitative", "scale": {"domain": [-1200, 1200], "nice": false, "zero": false}}
              }
            },
            {
              "data": {"values": [{}]},
              "mark": {"type": "text", "text": "em", "fontSize": 15, "color": "black", "align": "left", "baseline": "middle", "dx": 6, "dy": 6},
              "encoding": {
                "x": {"datum": 5.49, "type": "quantitative", "scale": {"domain": [-10, 10], "nice": false, "zero": false}},
                "y": {"datum": -1011, "type": "quantitative", "scale": {"domain": [-1200, 1200], "nice": false, "zero": false}}
              }
            },
            {
              "data": {"values": [{}]},
              "mark": {"type": "text", "text": "= 5 A", "fontSize": 17, "color": "black", "align": "left", "baseline": "middle", "dx": 32},
              "encoding": {
                "x": {"datum": 5.49, "type": "quantitative", "scale": {"domain": [-10, 10], "nice": false, "zero": false}},
                "y": {"datum": -1011, "type": "quantitative", "scale": {"domain": [-1200, 1200], "nice": false, "zero": false}}
              }
            },
            {
              "data": {"values": [{}]},
              "mark": {"type": "text", "text": "V", "angle": 270, "fontSize": 21, "color": "#262626", "align": "left", "baseline": "alphabetic"},
              "encoding": {
                "x": {"datum": -12.33, "type": "quantitative", "scale": {"domain": [-10, 10], "nice": false, "zero": false}},
                "y": {"datum": -325, "type": "quantitative", "scale": {"domain": [-1200, 1200], "nice": false, "zero": false}}
              }
            },
            {
              "data": {"values": [{}]},
              "mark": {"type": "text", "text": "y", "angle": 270, "fontSize": 15, "color": "#262626", "align": "left", "baseline": "alphabetic", "dx": 14, "dy": 6},
              "encoding": {
                "x": {"datum": -12.33, "type": "quantitative", "scale": {"domain": [-10, 10], "nice": false, "zero": false}},
                "y": {"datum": -325, "type": "quantitative", "scale": {"domain": [-1200, 1200], "nice": false, "zero": false}}
              }
            },
            {
              "data": {"values": [{}]},
              "mark": {"type": "text", "text": "(m.s", "angle": 270, "fontSize": 21, "color": "#262626", "align": "left", "baseline": "alphabetic", "dx": 32},
              "encoding": {
                "x": {"datum": -12.33, "type": "quantitative", "scale": {"domain": [-10, 10], "nice": false, "zero": false}},
                "y": {"datum": -325, "type": "quantitative", "scale": {"domain": [-1200, 1200], "nice": false, "zero": false}}
              }
            },
            {
              "data": {"values": [{}]},
              "mark": {"type": "text", "text": "-1", "angle": 270, "fontSize": 13, "color": "#262626", "align": "left", "baseline": "alphabetic", "dx": 73, "dy": -8},
              "encoding": {
                "x": {"datum": -12.33, "type": "quantitative", "scale": {"domain": [-10, 10], "nice": false, "zero": false}},
                "y": {"datum": -325, "type": "quantitative", "scale": {"domain": [-1200, 1200], "nice": false, "zero": false}}
              }
            },
            {
              "data": {"values": [{}]},
              "mark": {"type": "text", "text": ")", "angle": 270, "fontSize": 21, "color": "#262626", "align": "left", "baseline": "alphabetic", "dx": 85},
              "encoding": {
                "x": {"datum": -12.33, "type": "quantitative", "scale": {"domain": [-10, 10], "nice": false, "zero": false}},
                "y": {"datum": -325, "type": "quantitative", "scale": {"domain": [-1200, 1200], "nice": false, "zero": false}}
              }
            }
          ]
        }
      ]
    }
  ]
}
